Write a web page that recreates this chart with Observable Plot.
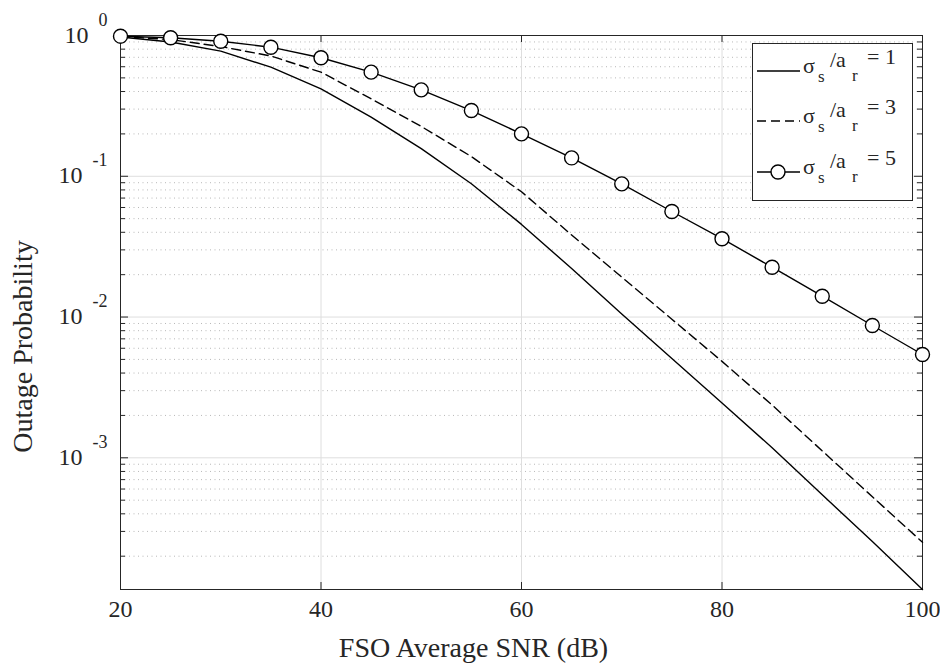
<!DOCTYPE html>
<html><head><meta charset="utf-8">
<script src="https://cdn.jsdelivr.net/npm/d3@7"></script>
<script src="https://cdn.jsdelivr.net/npm/@observablehq/plot@0.6"></script>
<style>
body{margin:0;background:#fff;}
#wrap{position:relative;width:940px;height:672px;font-family:"Liberation Serif","Times New Roman",serif;}
#legend{position:absolute;left:752px;top:43px;}
</style></head><body><div id="wrap"></div>
<script>
// ---- data ----
const snr = [20,25,30,35,40,45,50,55,60,65,70,75,80,85,90,95,100];
const outRatio1 = [0.975,0.900,0.774,0.596,0.418,0.263,0.157,0.0885,0.0455,0.0221,0.0105,0.00507,0.00245,0.00118,0.000546,0.000254,0.000116];
const outRatio3 = [0.985,0.935,0.835,0.715,0.549,0.355,0.226,0.138,0.0776,0.0383,0.0192,0.00964,0.00484,0.00237,0.00112,0.000529,0.000251];
const outRatio5 = [0.989,0.963,0.911,0.826,0.695,0.549,0.411,0.293,0.200,0.135,0.0883,0.0562,0.0360,0.0226,0.01406,0.00871,0.00542];
const seriesValues = ["1","3","5"];
const xTicks = [20,40,60,80,100];
const yTicks = [1,0.1,0.01,0.001];
const yExponents = ["0","-1","-2","-3"];
const xLabel = "FSO Average SNR (dB)";
const yLabel = "Outage Probability";

// ---- layout ----
const W = 940, H = 672, mL = 120, mR = 18, mT = 35, mB = 83;
const pw = W - mL - mR, ph = H - mT - mB;
const yMin = d3.min(outRatio1);
const yMinor = [];
for (const e of [-4,-3,-2,-1]) for (let m = 2; m <= 9; m++) { const v = m * Math.pow(10, e); if (v >= yMin && v < 1) yMinor.push(v); }

const rows = snr.map((x, i) => ({x, r1: outRatio1[i], r3: outRatio3[i], r5: outRatio5[i]}));
const ink = "#262626";
const serif = "'Liberation Serif','Times New Roman',serif";

const chart = Plot.plot({
  width: W, height: H, marginLeft: mL, marginRight: mR, marginTop: mT, marginBottom: mB,
  style: {fontFamily: serif, background: "white", color: ink, overflow: "visible"},
  x: {domain: [20, 100], axis: null},
  y: {type: "log", domain: [yMin, 1], axis: null},
  marks: [
    Plot.gridY(yMinor, {stroke: "#b8b8b8", strokeOpacity: 1, strokeDasharray: "1,3.5"}),
    Plot.gridY(yTicks.slice(1), {stroke: "#dedede", strokeOpacity: 1}),
    Plot.gridX(xTicks.slice(1, -1), {stroke: "#dedede", strokeOpacity: 1}),
    // inward ticks
    Plot.tickY(yTicks, {y: d => d, insetRight: pw - 8, stroke: ink}),
    Plot.tickY(yTicks, {y: d => d, insetLeft: pw - 8, stroke: ink}),
    Plot.tickY(yMinor, {y: d => d, insetRight: pw - 5, stroke: ink}),
    Plot.tickY(yMinor, {y: d => d, insetLeft: pw - 5, stroke: ink}),
    Plot.tickX(xTicks, {x: d => d, insetTop: ph - 7, stroke: ink}),
    Plot.tickX(xTicks, {x: d => d, insetBottom: ph - 7, stroke: ink}),
    Plot.frame({stroke: ink, strokeWidth: 1}),
    // series
    Plot.line(rows, {x: "x", y: "r1", stroke: "black", strokeWidth: 1.4}),
    Plot.line(rows, {x: "x", y: "r3", stroke: "black", strokeWidth: 1.4, strokeDasharray: "9,5"}),
    Plot.line(rows, {x: "x", y: "r5", stroke: "black", strokeWidth: 1.4}),
    Plot.dot(rows, {x: "x", y: "r5", r: 7, fill: "white", stroke: "black", strokeWidth: 1.4}),
    // tick labels
    Plot.text(xTicks, {x: d => d, frameAnchor: "bottom", dy: 27, text: d => String(d), fontSize: 24, fill: ink}),
    Plot.text(yTicks, {y: d => d, frameAnchor: "left", dx: -13, textAnchor: "end", text: () => "10", fontSize: 24, fill: ink}),
    // axis titles
    Plot.text([xLabel], {text: d => d, frameAnchor: "bottom", dx: -48, dy: 67, fontSize: 28, fill: ink}),
    Plot.text([yLabel], {text: d => d, frameAnchor: "left", textAnchor: "middle", dx: -97, dy: 34, rotate: -90, fontSize: 28, fill: ink})
  ]
});
document.getElementById("wrap").appendChild(chart);

// superscript exponents on y tick labels
const tickTexts = Array.from(chart.querySelectorAll("text")).filter(t => t.textContent === "10");
tickTexts.forEach((node, i) => {
  const t = d3.select(node);
  t.text(null).attr("dy", null).attr("y", null);
  t.append("tspan").attr("dy", 7).text("10");
  t.append("tspan").attr("dy", -17).attr("dx", 10).attr("font-size", 18).text(yExponents[i]);
});

// legend
const lg = d3.select("#wrap").append("svg").attr("id", "legend").attr("width", 162).attr("height", 160)
  .style("font-family", serif);
lg.append("rect").attr("x", 0.5).attr("y", 0.5).attr("width", 160).attr("height", 157).attr("fill", "white").attr("stroke", ink);
const rowY = [28, 78, 129];
const styles = [null, "9,5", null];
seriesValues.forEach((v, i) => {
  const y = rowY[i];
  lg.append("line").attr("x1", 5).attr("x2", 48).attr("y1", y).attr("y2", y).attr("stroke", "black").attr("stroke-width", 1.4).attr("stroke-dasharray", styles[i]);
  if (i === 2) lg.append("circle").attr("cx", 26).attr("cy", y).attr("r", 7).attr("fill", "white").attr("stroke", "black").attr("stroke-width", 1.4);
  const g = lg.append("g").attr("fill", ink);
  g.append("text").attr("x", 51).attr("y", y + 2).attr("font-size", 22).text("σ");
  g.append("text").attr("x", 66).attr("y", y + 11).attr("font-size", 17).text("s");
  g.append("text").attr("x", 78).attr("y", y - 4).attr("font-size", 22).text("/a");
  g.append("text").attr("x", 100).attr("y", y + 10).attr("font-size", 17).text("r");
  g.append("text").attr("x", 115).attr("y", y - 7).attr("font-size", 22).text("= " + v);
});
</script></body></html>
